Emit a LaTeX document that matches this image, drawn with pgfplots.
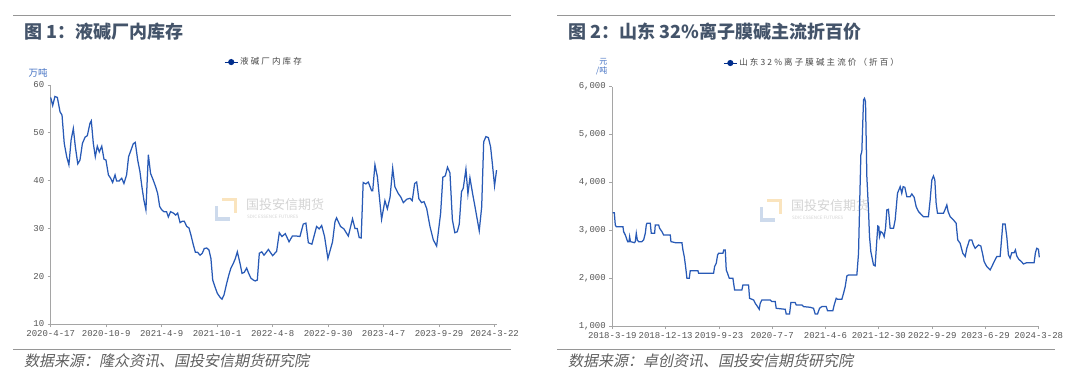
\documentclass[border=0pt]{standalone}
\usepackage{fontspec}
\usepackage{pgfplots}
\pgfplotsset{compat=1.18}
\setmainfont{Noto Sans CJK SC}
\newfontfamily\cjkit[FakeSlant=0.2]{Noto Sans CJK SC}
\newfontfamily\legfont[LetterSpace=25]{Noto Sans CJK SC}
\newfontfamily\ticfont{Liberation Mono}
\definecolor{titlec}{RGB}{68,84,106}
\definecolor{rulec}{RGB}{150,150,150}
\definecolor{srcc}{RGB}{95,95,95}
\definecolor{unitc}{RGB}{68,114,196}
\definecolor{linec}{RGB}{40,90,182}
\definecolor{legc}{RGB}{0,45,140}
\definecolor{tickc}{RGB}{85,85,85}
\definecolor{axisc}{RGB}{165,165,165}
\definecolor{wm}{RGB}{212,212,212}
\definecolor{wmo}{RGB}{250,228,190}
\definecolor{wmb}{RGB}{205,218,236}

\pgfplotstableread{
w v
0 57.4
0.9 55.7
1.9 57.6
3.0 57.4
4.2 54.4
5.1 53.7
6.1 47.8
7.2 45.0
8.2 43.3
9.2 48.5
10.2 50.9
11.1 47.1
12.2 43.5
13.2 44.3
14.3 47.8
15.5 49.1
16.5 49.4
17.7 52.0
18.3 52.5
19.2 47.8
20.1 45.0
21.0 47.2
21.9 46.0
23.0 47.2
24.0 44.5
24.9 44.3
26.0 41.2
27.0 40.5
27.9 39.6
29.0 41.2
29.7 39.9
30.8 39.9
32.0 40.5
33.0 39.4
34.2 41.2
35.1 45.0
36.2 46.4
37.2 47.7
38.1 48.0
39.2 44.3
40.2 41.9
41.1 38.7
42.0 35.9
42.9 33.9
44.0 45.4
45.0 41.5
46.2 40.1
47.3 38.7
48.2 37.3
49.1 34.6
50.0 33.9
51.0 33.5
52.2 33.5
53.0 32.4
54.0 33.5
55.3 33.2
56.3 32.8
57.2 33.2
58.3 31.2
59.3 31.5
60.2 31.5
61.3 30.4
62.3 30.1
63.2 28.6
64.3 26.5
65.2 25.0
66.2 25.0
67.3 24.4
68.3 24.8
69.2 25.8
70.3 25.9
71.3 25.5
72.2 23.7
73.0 19.2
74.0 17.8
75.1 16.4
76.3 15.6
77.2 15.2
78.1 16.1
79.3 18.5
80.3 20.3
81.2 21.7
82.3 22.7
83.2 23.7
84.1 25.1
85.3 22.7
86.2 20.6
87.2 20.8
88.3 21.7
89.2 20.6
90.2 19.6
91.3 19.2
92.2 19.0
93.1 19.2
94.0 24.8
95.1 25.1
96.1 24.4
97.0 24.9
98.1 25.6
100.0 24.3
101.8 25.2
103.0 29.1
104.2 28.3
105.7 28.9
107.4 27.2
108.9 28.4
110.8 28.4
112.3 28.3
113.8 30.9
115.0 31.1
116.1 27.0
117.7 26.7
119.8 30.4
121.0 29.9
122.1 30.6
123.4 28.3
124.9 23.7
127.0 27.2
128.1 31.4
128.8 32.2
130.6 30.4
132.1 29.9
134.1 28.4
136.0 32.0
137.1 30.0
138.1 30.0
139.0 28.1
139.9 28.0
140.8 39.6
142.0 39.3
143.1 39.7
144.6 37.9
145.1 37.9
146.1 43.3
147.2 40.8
149.1 31.9
150.6 35.8
151.7 34.1
152.9 36.5
154.1 42.6
155.1 38.7
156.6 37.3
157.7 36.6
158.9 35.4
160.4 36.1
161.9 36.3
162.9 35.8
164.0 39.4
164.9 39.7
165.9 36.2
167.1 35.4
168.2 35.6
169.4 34.2
170.9 30.4
172.4 27.6
173.9 26.3
175.7 33.2
176.7 40.7
177.8 41.0
178.8 42.8
179.9 41.6
181.0 31.8
182.1 29.1
183.2 29.3
184.1 30.9
185.1 37.7
185.9 38.4
187.1 42.4
188.0 37.2
188.9 40.6
190.1 37.3
191.2 34.5
193.1 29.5
194.2 34.5
195.1 48.1
196.1 49.2
197.2 49.0
198.2 47.1
199.0 43.6
200.0 38.9
200.9 42.2
}\stocktable

\pgfplotstableread{
u v
0.6 3369
3.75 3369
5.6 3111
7.5 3076
20 3076
21.25 2972
24.4 2902
28.75 2763
31.25 2763
32.5 2867
34 2763
41.25 2742
43.1 2763
45 2937
46.9 2798
49.4 2763
55.6 2763
58.75 2798
61.9 2937
63.75 3111
65 3146
71.25 3146
73.1 2937
79.4 2937
80.6 3111
86.9 3111
88.75 3041
93.1 2972
96.25 2902
108.75 2902
110 2763
118.1 2742
130.6 2742
132.5 2589
135 2450
137.5 2241
140 1997
144.4 1997
146.25 2157
160.6 2157
161.9 2101
190 2101
191.9 2241
195 2310
197.5 2484
199.4 2519
207.5 2519
209 2589
211.9 2589
213.75 2171
216.25 2101
219.4 1997
226.25 1997
229.4 1753
243.1 1753
245 1858
255.6 1858
257.5 1579
265 1544
268.1 1475
272.5 1405
275.6 1349
277.5 1475
280.6 1544
296.25 1544
299.4 1510
305.6 1510
307.5 1370
324.4 1349
326.25 1252
332.5 1252
335 1489
343.1 1489
345 1440
355.6 1440
358.75 1405
371.25 1391
377.5 1370
380.6 1252
385 1252
388.75 1370
393 1405
401.25 1405
403.75 1321
413.75 1321
416.25 1440
420 1579
422.5 1558
430.6 1558
433.75 1683
436.9 1823
440 2046
443.1 2067
458.75 2067
461.9 2519
463.75 3424
466.25 4573
468.1 4643
471.25 5722
473.1 5757
475 5687
477.5 4121
480.6 3424
482.5 2867
485 2554
487.5 2415
490 2276
493 2255
496.25 2798
498.1 3090
500 3076
501.25 2867
503.75 2972
507.5 2937
510 2867
512.5 3041
515 3424
518 3438
521.25 3041
527.5 3041
530.6 3216
535 3773
540 3912
543 3773
545.6 3912
548.75 3898
552.5 3703
558.75 3703
561.9 3759
566.25 3689
570 3494
574.4 3390
577.5 3355
583.75 3285
593 3285
596.25 3633
599.4 4051
602.5 4135
605 4051
607.5 3564
610 3355
621.25 3355
624.4 3438
627.5 3529
630 3390
633.75 3285
640 3216
645 3146
648 2798
652.5 2728
657.5 2519
662 2450
665 2624
670 2798
674.4 2798
677.5 2693
680.6 2624
683.75 2659
687 2693
691.25 2672
694.4 2519
697.5 2345
702.5 2241
708.75 2171
712 2241
716.25 2345
721.25 2450
727.5 2450
730.6 2867
732.5 3132
736.9 3132
740 2867
743.1 2484
746.25 2415
749.4 2533
753.75 2533
756.25 2589
758.75 2463
762.5 2394
767.5 2345
771.25 2296
777.5 2324
791.25 2324
793.75 2533
796.25 2624
799.4 2603
801 2436
}\pricetable

\pgfplotsset{
  chart/.style={
    scale only axis, axis lines=left,
    axis line style={-, draw=axisc, line width=0.9pt},
    major tick length=3pt,
    tick style={draw=axisc, line width=0.8pt},
    tick align=outside,
    ticklabel style={font=\ticfont\fontsize{9}{9}\selectfont, text=tickc},
    legend style={draw=none, fill=none, font=\legfont\fontsize{8.5}{9}\selectfont, text=black!72, inner sep=0pt},
    legend image code/.code={\draw[legc, line width=1pt] (0pt,0pt) -- (13pt,0pt); \fill[legc] (6.5pt,0pt) circle (2.4pt);},
    clip=false,
  }
}

\begin{document}
\begin{tikzpicture}[x=1pt,y=1pt]
\useasboundingbox (0,0) rectangle (1080,-378);
\fill[white] (0,0) rectangle (1080,-378);

% rules
\draw[rulec, line width=1.5pt] (13,-15.5) -- (511,-15.5);
\draw[rulec, line width=1.5pt] (557,-15.5) -- (1055,-15.5);
\draw[rulec, line width=1.3pt] (13,-349.5) -- (511,-349.5);
\draw[rulec, line width=1.3pt] (557,-349.5) -- (1055,-349.5);

% titles
\node[anchor=west, inner sep=0pt, text=titlec, font=\fontsize{18}{18}\selectfont\bfseries] at (24.5,-32) {图 1：液碱厂内库存};
\node[anchor=west, inner sep=0pt, text=titlec, font=\fontsize{18}{18}\selectfont\bfseries] at (568.5,-32) {图 2：山东 32\%离子膜碱主流折百价};

% sources
\node[anchor=west, inner sep=0pt, text=srcc, font=\cjkit\fontsize{15}{16}\selectfont] at (24,-361) {数据来源：隆众资讯、国投安信期货研究院};
\node[anchor=west, inner sep=0pt, text=srcc, font=\cjkit\fontsize{15}{16}\selectfont] at (568,-361) {数据来源：卓创资讯、国投安信期货研究院};

% units
\node[anchor=center, inner sep=0pt, text=unitc, font=\fontsize{9.5}{10}\selectfont] at (38,-73) {万吨};
\node[anchor=east, inner sep=0pt, text=unitc, font=\fontsize{8}{8}\selectfont] at (607.5,-62) {元};
\node[anchor=east, inner sep=0pt, text=unitc, font=\fontsize{8}{8}\selectfont] at (607.5,-71) {/吨};

% watermarks
\draw[wmo, line width=3.5pt] (222,-199.5) -- (235.5,-199.5) -- (235.5,-213);
\draw[wmb, line width=3.5pt] (216.5,-206) -- (216.5,-219) -- (230,-219);
\node[anchor=west, inner sep=0pt, text=wm, font=\fontsize{13}{13}\selectfont] at (246,-205) {国投安信期货};
\node[anchor=west, inner sep=0pt, text=wm, font=\fontsize{4.5}{5}\selectfont] at (247,-217) {SDIC ESSENCE FUTURES};
\draw[wmo, line width=3.5pt] (767,-200.5) -- (780.5,-200.5) -- (780.5,-214);
\draw[wmb, line width=3.5pt] (761.5,-207) -- (761.5,-220) -- (775,-220);
\node[anchor=west, inner sep=0pt, text=wm, font=\fontsize{13}{13}\selectfont] at (791,-206) {国投安信期货};
\node[anchor=west, inner sep=0pt, text=wm, font=\fontsize{4.5}{5}\selectfont] at (792,-218) {SDIC ESSENCE FUTURES};

% left chart
\begin{axis}[chart,
  at={(50.7pt,-324pt)}, anchor=south west,
  width=446.3pt, height=239pt,
  xmin=0, xmax=201.1, ymin=10, ymax=60,
  ytick={10,20,30,40,50,60},
  yticklabels={10,20,30,40,50,60},
  xtick={0,25,50,75,100,125,150,175,200},
  xticklabels={2020-4-17,2020-10-9,2021-4-9,2021-10-1,2022-4-8,2022-9-30,2023-4-7,2023-9-29,2024-3-22},
  legend style={at={(0.478,1.096)}, anchor=center},
]
\addplot[linec, line width=1.25pt] table[x=w, y=v] {\stocktable};
\addlegendentry{液碱厂内库存}
\end{axis}

% right chart
\begin{axis}[chart,
  at={(612.3pt,-326pt)}, anchor=south west,
  width=427pt, height=239.3pt,
  xmin=0, xmax=801, ymin=1000, ymax=6000,
  ytick={1000,2000,3000,4000,5000,6000},
  yticklabels={{1,000},{2,000},{3,000},{4,000},{5,000},{6,000}},
  xtick={0,100,200,300,400,500,600,700,800},
  xticklabels={2018-3-19,2018-12-13,2019-9-23,2020-7-7,2021-4-6,2021-12-30,2022-9-29,2023-6-29,2024-3-28},
  legend style={at={(0.468,1.099)}, anchor=center},
]
\addplot[linec, line width=1.25pt] table[x=u, y=v] {\pricetable};
\addlegendentry{山东32\%离子膜碱主流价（折百）}
\end{axis}
\end{tikzpicture}
\end{document}
